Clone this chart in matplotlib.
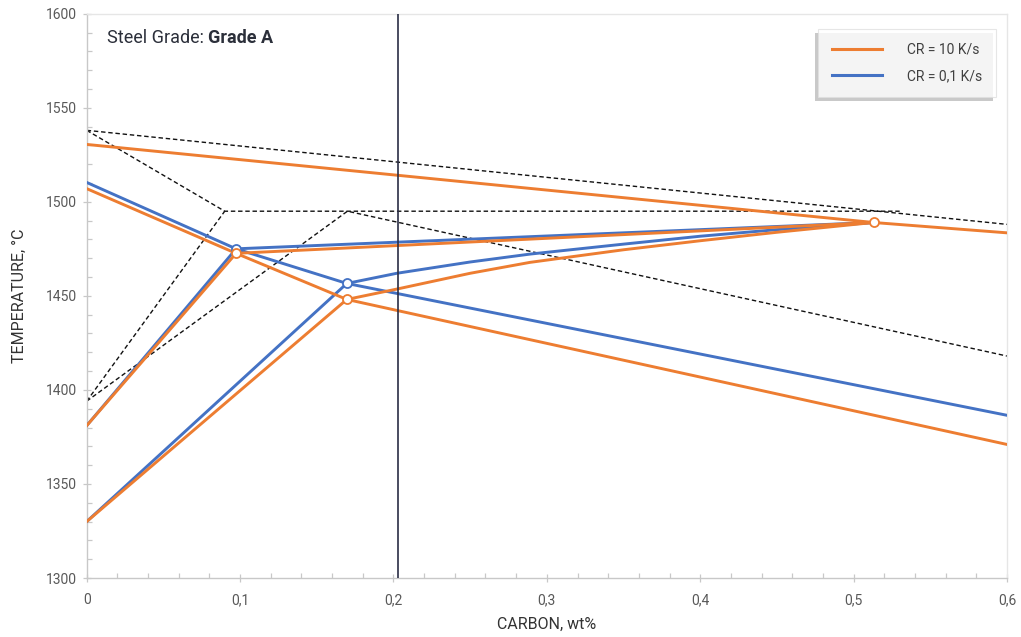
import matplotlib
matplotlib.use("Agg")
import matplotlib.pyplot as plt
import matplotlib.patheffects as pe
from matplotlib.ticker import MultipleLocator, FuncFormatter

# ---- data ----
# Equilibrium (dashed) lines
liq_x = [0.0, 0.6]
liq_y = [1538, 1488]
delta_x = [0.0, 0.09, 0.53]
delta_y = [1538, 1495, 1495]
solv1_x = [0.0, 0.09]
solv1_y = [1394, 1495]
solv2_x = [0.0, 0.17, 0.6]
solv2_y = [1394, 1495, 1418]

# CR = 10 K/s (orange)
o_top_x = [0.0, 0.513, 0.6]
o_top_y = [1530.5, 1489, 1483.5]
o_sol_x = [0.0, 0.0974, 0.1696, 0.6]
o_sol_y = [1507, 1472.6, 1448.1, 1371]
o_a_x = [0.0, 0.0974]
o_a_y = [1381, 1472.6]
o_b_x = [0.0974, 0.513]
o_b_y = [1472.6, 1489]
o_c_x = [0.0, 0.1696]
o_c_y = [1330, 1448.1]
o_d_x = [0.1696, 0.2022, 0.25, 0.289, 0.35, 0.40, 0.45, 0.513]
o_d_y = [1448.1, 1453.6, 1462, 1467.8, 1474.5, 1479.3, 1483.8, 1489]
o_mark_x = [0.0974, 0.1696, 0.513]
o_mark_y = [1472.6, 1448.1, 1489]

# CR = 0,1 K/s (blue)
b_sol_x = [0.0, 0.0974, 0.1696, 0.6]
b_sol_y = [1510.3, 1475, 1456.6, 1386.5]
b_a_x = [0.0, 0.0974]
b_a_y = [1381, 1475]
b_b_x = [0.0974, 0.513]
b_b_y = [1475, 1489]
b_c_x = [0.0, 0.1696]
b_c_y = [1330, 1456.6]
b_d_x = [0.1696, 0.2022, 0.25, 0.289, 0.35, 0.40, 0.45, 0.513]
b_d_y = [1456.6, 1462, 1468, 1472.2, 1477.5, 1481.7, 1485.2, 1489]
b_mark_x = [0.0974, 0.1696]
b_mark_y = [1475, 1456.6]

carbon_content = 0.203
grade = "Grade A"
legend_labels = ["CR = 10 K/s", "CR = 0,1 K/s"]

ORANGE = "#ED7D31"
BLUE = "#4472C4"
TXT = "#2b2f3a"
GRID = "#c8c8c8"

plt.rcParams['font.family'] = ['Roboto', 'DejaVu Sans']

fig = plt.figure(figsize=(10.21, 6.37), dpi=100)
ax = fig.add_axes([0.0849, 0.0926, 0.9014, 0.8859])

lw = 2.1
# dashed equilibrium lines
for xs, ys in [(liq_x, liq_y), (delta_x, delta_y), (solv1_x, solv1_y), (solv2_x, solv2_y)]:
    ax.plot(xs, ys, color="#111111", lw=1.0, ls=(0, (3.2, 2.0)), zorder=2)

# blue lines
for xs, ys in [(b_sol_x, b_sol_y), (b_a_x, b_a_y), (b_b_x, b_b_y), (b_c_x, b_c_y), (b_d_x, b_d_y)]:
    ax.plot(xs, ys, color=BLUE, lw=lw, zorder=3, solid_joinstyle='round')
# orange lines
for xs, ys in [(o_top_x, o_top_y), (o_sol_x, o_sol_y), (o_a_x, o_a_y), (o_b_x, o_b_y), (o_c_x, o_c_y), (o_d_x, o_d_y)]:
    ax.plot(xs, ys, color=ORANGE, lw=lw, zorder=4, solid_joinstyle='round')

ax.plot(b_mark_x, b_mark_y, ls='none', marker='o', ms=6.5, mfc='white', mec=BLUE, mew=1.3, zorder=5)
ax.plot(o_mark_x, o_mark_y, ls='none', marker='o', ms=6.5, mfc='white', mec=ORANGE, mew=1.3, zorder=5)

ax.axvline(carbon_content, color="#2a2e45", lw=1.2, zorder=6)

ax.set_xlim(0, 0.6)
ax.set_ylim(1300, 1600)
ax.xaxis.set_major_locator(MultipleLocator(0.1))
ax.xaxis.set_minor_locator(MultipleLocator(0.02))
ax.yaxis.set_major_locator(MultipleLocator(50))
ax.yaxis.set_minor_locator(MultipleLocator(10))

def xfmt(v, pos):
    if abs(v) < 1e-9:
        return "0"
    return ("%.1f" % v).replace(".", ",")
ax.xaxis.set_major_formatter(FuncFormatter(xfmt))
ax.yaxis.set_major_formatter(FuncFormatter(lambda v, p: "%d" % round(v)))

for s in ax.spines.values():
    s.set_color(GRID)
    s.set_linewidth(1.0)
ax.spines['top'].set_color("#e6e6e6")
ax.spines['right'].set_color("#e6e6e6")

ax.tick_params(which='major', direction='inout', length=6, width=0.9, color=GRID,
               labelsize=10, labelcolor="#595959", pad=4)
ax.tick_params(which='minor', direction='in', length=3.5, width=0.9, color=GRID)
for lab in ax.get_xticklabels() + ax.get_yticklabels():
    lab.set_fontfamily(['Liberation Sans Narrow', 'Roboto', 'DejaVu Sans'])
ax.tick_params(axis='x', pad=8)

ax.set_xlabel("CARBON, wt%", fontsize=11.5, color="#333333")
ax.xaxis.set_label_coords(0.5, -0.068)
ax.set_ylabel("TEMPERATURE, °C", fontsize=11.5, color="#333333", labelpad=14)

ax.text(0.022, 0.957, "Steel Grade: ", transform=ax.transAxes, fontsize=13,
        color=TXT, va='center', ha='left')
t = ax.texts[-1]
fig.canvas.draw()
bb = t.get_window_extent(renderer=fig.canvas.get_renderer())
x_end = ax.transAxes.inverted().transform((bb.x1, bb.y0))[0]
ax.text(x_end, 0.957, grade, transform=ax.transAxes, fontsize=13,
        color=TXT, va='center', ha='left', fontweight='bold')

# legend
from matplotlib.lines import Line2D
handles = [Line2D([], [], color=ORANGE, lw=2.2), Line2D([], [], color=BLUE, lw=2.2)]
leg = ax.legend(handles, legend_labels, loc='upper right', bbox_to_anchor=(0.988, 0.973),
                fontsize=10, frameon=True, fancybox=False, shadow=False,
                handlelength=3.6, handletextpad=1.8, borderpad=1.0, labelspacing=0.9,
                borderaxespad=0.0)
fr = leg.get_frame()
fr.set_edgecolor("#e0e0e0")
fr.set_linewidth(0.8)
fr.set_path_effects([pe.SimplePatchShadow(offset=(-2, -3), shadow_rgbFace='#888888', alpha=0.45), pe.Normal()])
for tx in leg.get_texts():
    tx.set_color("#404040")
leg.set_zorder(10)

fig.savefig("out.png", dpi=100, facecolor="white")
